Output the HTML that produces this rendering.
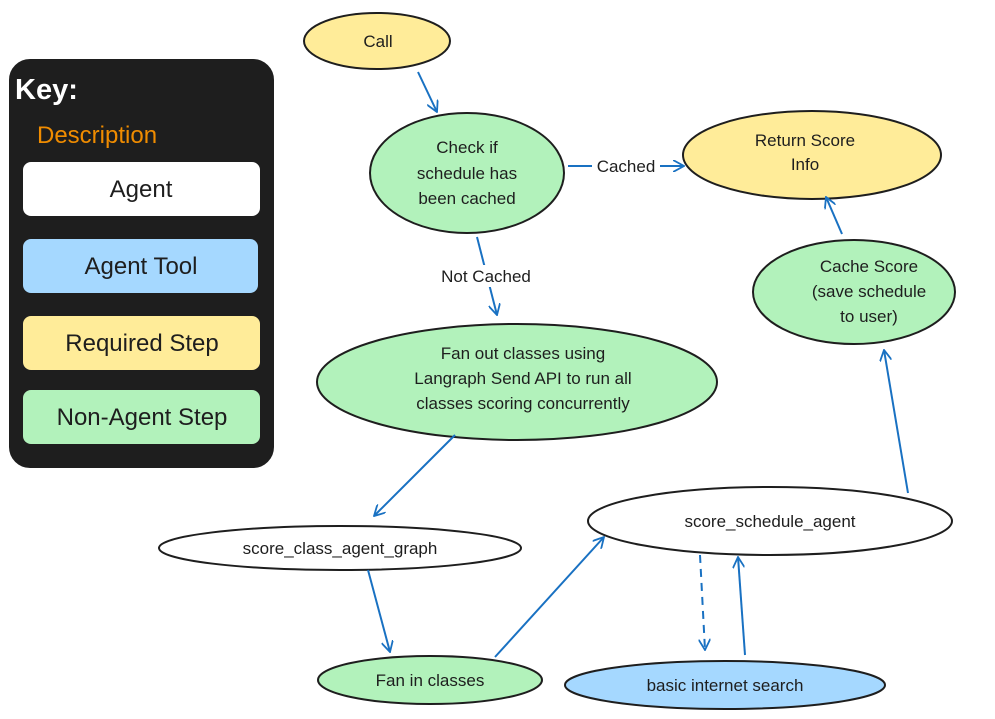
<!DOCTYPE html>
<html><head><meta charset="utf-8"><style>
html,body{margin:0;padding:0;background:#fff;}
svg{display:block;}
text{font-family:"Liberation Sans","DejaVu Sans",sans-serif;fill:#1e1e1e;}
</style></head><body>
<svg width="995" height="719" viewBox="0 0 995 719" xmlns="http://www.w3.org/2000/svg">
<defs>
<marker id="a" viewBox="0 0 12 12" refX="11" refY="6" markerWidth="12" markerHeight="12" markerUnits="userSpaceOnUse" orient="auto">
<path d="M0,0 L11,6 L0,12" fill="none" stroke="#1971c2" stroke-width="1.8"/>
</marker>
</defs>
<rect x="10" y="60" width="263" height="407" rx="20" fill="#1e1e1e" stroke="#1e1e1e" stroke-width="2"/>
<text x="15" y="99" font-size="29" font-weight="bold" style="fill:#fff">Key:</text>
<text x="37" y="143" font-size="24" style="fill:#f08c00">Description</text>
<rect x="23" y="162" width="237" height="54" rx="8" fill="#fff"/>
<text x="141" y="197" font-size="24" text-anchor="middle">Agent</text>
<rect x="23" y="239" width="235" height="54" rx="8" fill="#a5d8ff"/>
<text x="141" y="274" font-size="24" text-anchor="middle">Agent Tool</text>
<rect x="23" y="316" width="237" height="54" rx="8" fill="#ffec99"/>
<text x="142" y="351" font-size="24" text-anchor="middle">Required Step</text>
<rect x="23" y="390" width="237" height="54" rx="8" fill="#b2f2bb"/>
<text x="142" y="425" font-size="24" text-anchor="middle">Non-Agent Step</text>

<g stroke="#1e1e1e" stroke-width="2">
<ellipse cx="377" cy="41" rx="73" ry="28" fill="#ffec99"/>
<ellipse cx="467" cy="173" rx="97" ry="60" fill="#b2f2bb"/>
<ellipse cx="812" cy="155" rx="129" ry="44" fill="#ffec99"/>
<ellipse cx="854" cy="292" rx="101" ry="52" fill="#b2f2bb"/>
<ellipse cx="517" cy="382" rx="200" ry="58" fill="#b2f2bb"/>
<ellipse cx="340" cy="548" rx="181" ry="22" fill="#fff"/>
<ellipse cx="770" cy="521" rx="182" ry="34" fill="#fff"/>
<ellipse cx="430" cy="680" rx="112" ry="24" fill="#b2f2bb"/>
<ellipse cx="725" cy="685" rx="160" ry="24" fill="#a5d8ff"/>
</g>

<g font-size="17" text-anchor="middle">
<text x="378" y="47">Call</text>
<text x="467" y="153">Check if</text>
<text x="467" y="179">schedule has</text>
<text x="467" y="204">been cached</text>
<text x="805" y="146">Return Score</text>
<text x="805" y="170">Info</text>
<text x="869" y="272">Cache Score</text>
<text x="869" y="297">(save schedule</text>
<text x="869" y="322">to user)</text>
<text x="523" y="359">Fan out classes using</text>
<text x="523" y="384">Langraph Send API to run all</text>
<text x="523" y="409">classes scoring concurrently</text>
<text x="340" y="554">score_class_agent_graph</text>
<text x="770" y="527">score_schedule_agent</text>
<text x="430" y="686">Fan in classes</text>
<text x="725" y="691">basic internet search</text>
</g>

<g stroke="#1971c2" stroke-width="2" fill="none" marker-end="url(#a)">
<path d="M418,72 L437,112"/>
<path d="M568,166 L684,166"/>
<path d="M477,237 L497,315"/>
<path d="M455,435 L374,516"/>
<path d="M368,570 L390,652"/>
<path d="M495,657 L604,537"/>
<path d="M700,555 L705,650" stroke-dasharray="8,6"/>
<path d="M745,655 L738,557"/>
<path d="M908,493 L884,350"/>
<path d="M842,234 L826,197"/>
</g>
<rect x="592" y="156" width="68" height="22" fill="#fff"/>
<text x="626" y="172" font-size="17" text-anchor="middle">Cached</text>
<rect x="430" y="265" width="112" height="22" fill="#fff"/>
<text x="486" y="282" font-size="17" text-anchor="middle">Not Cached</text>
</svg>
</body></html>
